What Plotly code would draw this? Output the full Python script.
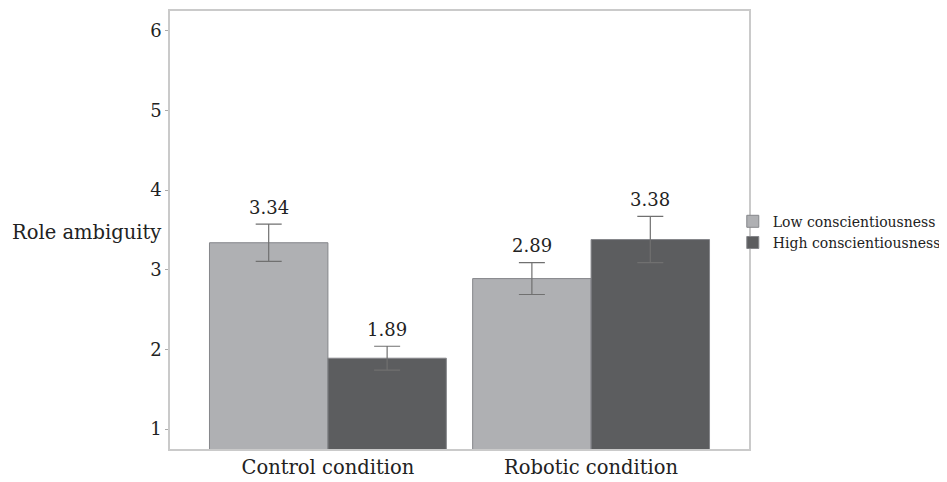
import plotly.graph_objects as go

categories = ["Control condition", "Robotic condition"]
low_values = [3.34, 2.89]
high_values = [1.89, 3.38]
low_err = [0.235, 0.2]
high_err = [0.15, 0.29]
series_names = ["Low conscientiousness", "High conscientiousness"]
y_ticks = [1, 2, 3, 4, 5, 6]

FONT = "DejaVu Serif"
x_pos = list(range(len(categories)))

fig = go.Figure()
for name, vals, errs, color in [
    (series_names[0], low_values, low_err, "#afb0b3"),
    (series_names[1], high_values, high_err, "#5c5d5f"),
]:
    fig.add_trace(go.Bar(
        x=x_pos, y=vals, name=name,
        marker=dict(color=color, line=dict(color="#85868a", width=1)),
        error_y=dict(type="data", array=errs, visible=True,
                     color="#707070", thickness=1.2, width=13),
    ))

# value labels above error bars
offsets = [-0.225, 0.225]
for vals, errs, off in [(low_values, low_err, offsets[0]), (high_values, high_err, offsets[1])]:
    for i, (v, e) in enumerate(zip(vals, errs)):
        fig.add_annotation(x=x_pos[i] + off, y=v + e, text=f"{v:.2f}",
                           showarrow=False, yanchor="middle", yshift=17,
                           font=dict(family=FONT, size=18, color="#222"))

fig.add_annotation(xref="paper", yref="paper", x=-0.012, y=0.495,
                   xanchor="right", yanchor="middle", text="Role ambiguity",
                   showarrow=False, font=dict(family=FONT, size=19.5, color="#222"))

fig.update_layout(
    width=947, height=482,
    margin=dict(l=162, r=206, t=3, b=41, autoexpand=False),
    paper_bgcolor="white", plot_bgcolor="white",
    barmode="group", bargap=0.1, bargroupgap=0,
    font=dict(family=FONT, size=18, color="#222"),
    showlegend=True,
    legend=dict(x=0.972, xanchor="left", y=0.495, yanchor="middle",
                bgcolor="rgba(0,0,0,0)", font=dict(family=FONT, size=14, color="#222"),
                tracegroupgap=0, itemwidth=30),
    xaxis=dict(tickmode="array", tickvals=x_pos, ticktext=categories,
               range=[-0.6, 1.6], showgrid=False, zeroline=False, automargin=False,
               showline=True, linecolor="#cacaca", linewidth=1.5, mirror=True,
               ticks="", tickfont=dict(family=FONT, size=19.5, color="#222")),
    yaxis=dict(tickvals=y_ticks, range=[0.75, 6.25], showgrid=False, zeroline=False,
               automargin=False,
               showline=True, linecolor="#cacaca", linewidth=1.5, mirror=True,
               ticks="outside", ticklen=3, tickcolor="#aaaaaa",
               tickfont=dict(family=FONT, size=18, color="#222")),
)

fig.write_html("out.html")
